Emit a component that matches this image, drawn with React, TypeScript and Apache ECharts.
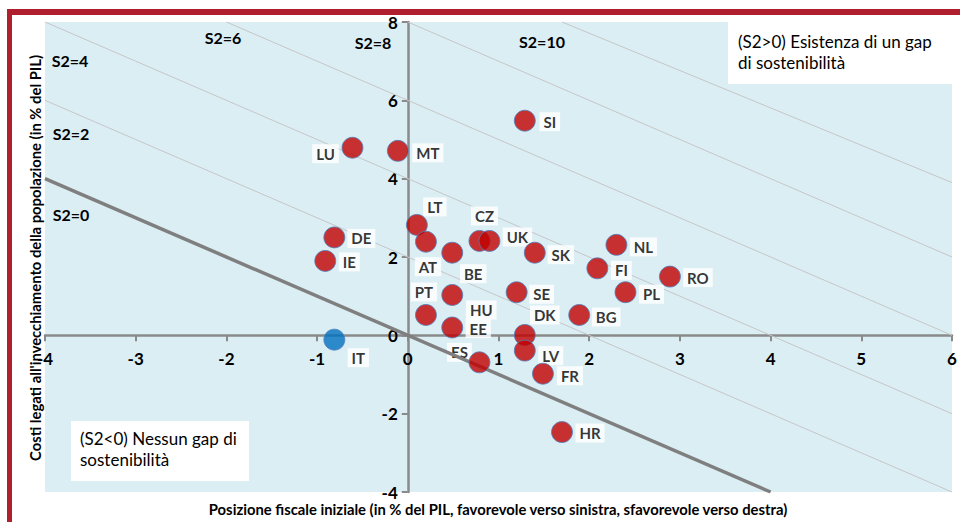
import React, { useEffect, useRef } from "react";
import * as echarts from "echarts";

// Country points: [x = initial budgetary position, y = cost of ageing]
const countries = ["LU", "MT", "SI", "LT", "DE", "IE", "AT", "BE", "CZ", "UK", "SK", "NL", "FI", "RO", "PL", "SE", "BG", "PT", "HU", "EE", "DK", "LV", "ES", "FR", "HR"];
const xValues = [-0.61, -0.11, 1.29, 0.1, -0.81, -0.91, 0.2, 0.49, 0.79, 0.9, 1.4, 2.3, 2.09, 2.89, 2.4, 1.2, 1.89, 0.2, 0.49, 0.49, 1.29, 1.29, 0.79, 1.49, 1.7];
const yValues = [4.79, 4.71, 5.48, 2.82, 2.5, 1.9, 2.39, 2.11, 2.41, 2.41, 2.11, 2.31, 1.71, 1.5, 1.1, 1.1, 0.52, 0.52, 1.03, 0.2, 0.01, -0.39, -0.69, -0.98, -2.47];
const italy = { name: "IT", x: -0.81, y: -0.11 };

// label offsets (px) from each marker
const labelOffsets: Record<string, [number, number]> = {
  LU: [-27, 6], MT: [30, 2], SI: [25, 1], LT: [18, -18], DE: [27, 1], IE: [24, 1],
  AT: [2, 25], BE: [21, 21], CZ: [5, -25], UK: [28, -4], SK: [26, 2], NL: [27, 2],
  FI: [24, 2], RO: [28, 1], PL: [26, 2], SE: [25, 2], BG: [27, 2], PT: [-2, -23],
  HU: [29, 15], EE: [26, 1], DK: [20, -20], LV: [26, 5], ES: [-20, -10], FR: [27, 2],
  HR: [28, 1], IT: [24, 18],
};

// iso-S2 lines
const isoNames = ["S2=2", "S2=4", "S2=6", "S2=8", "S2=10"];
const isoLines: number[][][] = [
  [[-4, 6], [6, -4]],
  [[-4, 8], [6, -2]],
  [[-2, 8], [6, 0]],
  [[0, 8], [6, 2]],
  [[1.7, 8], [6, 3.9]],
];
const zeroLine = [[-4, 4], [4, -4]];

const xTicks = { min: -4, max: 6, interval: 1 };
const yTicks = { min: -4, max: 8, interval: 2 };

const xTitle = "Posizione fiscale iniziale (in % del PIL, favorevole verso sinistra, sfavorevole verso destra)";
const yTitle = "Costi legati all'invecchiamento della popolazione (in % del PIL)";

const FONT = "Lato, 'Open Sans', sans-serif";

const GRID = { left: 45, top: 22, width: 907, height: 470 };

export default function App() {
  const ref = useRef<HTMLDivElement>(null);
  useEffect(() => {
    if (!ref.current) return;
    const chart = echarts.init(ref.current, undefined, { renderer: "svg" });
    const pts = countries.map((c, i) => [xValues[i], yValues[i], c]);
    const allPts = [...pts, [italy.x, italy.y, italy.name]];
    const axisLineStyle = { color: "#8a8a8a", width: 2.5 };
    // axes cross at zero: shift axes from grid edges to the zero position
    const xZeroPx = GRID.left + ((0 - xTicks.min) / (xTicks.max - xTicks.min)) * GRID.width;
    const yZeroPx = GRID.top + ((yTicks.max - 0) / (yTicks.max - yTicks.min)) * GRID.height;
    const xAxisOffset = -(GRID.top + GRID.height - yZeroPx);
    const yAxisOffset = -(xZeroPx - GRID.left);
    const option: any = {
      animation: false,
      textStyle: { fontFamily: FONT },
      grid: { ...GRID, show: true, backgroundColor: "#dbeef4", borderWidth: 0 },
      xAxis: {
        type: "value", ...xTicks, position: "bottom", offset: xAxisOffset,
        axisLine: { show: true, onZero: false, lineStyle: axisLineStyle },
        axisTick: { show: true, length: 6, lineStyle: { color: "#8a8a8a", width: 2 } },
        axisLabel: { fontSize: 17, fontWeight: "bold", color: "#000", margin: 15, fontFamily: FONT },
        splitLine: { show: false },
      },
      yAxis: {
        type: "value", ...yTicks, position: "left", offset: yAxisOffset,
        axisLine: { show: true, onZero: false, lineStyle: axisLineStyle },
        axisTick: { show: true, length: 6, lineStyle: { color: "#8a8a8a", width: 2 } },
        axisLabel: { fontSize: 17, lineHeight: 14, fontWeight: "bold", color: "#000", margin: 10, fontFamily: FONT },
        splitLine: { show: false },
      },
      series: [
        ...isoLines.map((d, i) => ({
          type: "line", name: isoNames[i], data: d, symbol: "none", silent: true, z: 1,
          lineStyle: { color: "#c6c6c6", width: 1 },
        })),
        {
          type: "scatter", name: "labels", z: 2, silent: true,
          symbolSize: 1, itemStyle: { color: "rgba(0,0,0,0)" },
          data: allPts.map((p) => ({
            value: p,
            label: {
              show: true, position: "inside", offset: labelOffsets[p[2] as string],
              formatter: p[2] as string,
              backgroundColor: "#ffffff", padding: [3, 4, 1, 4],
              fontSize: 15, fontWeight: "bold", color: "#000", fontFamily: FONT,
            },
          })),
        },
        {
          type: "line", name: "S2=0", data: zeroLine, symbol: "none", silent: true, z: 3,
          lineStyle: { color: "#7f7f7f", width: 3.5 },
        },
        {
          type: "scatter", name: "countries", z: 4, symbolSize: 21,
          itemStyle: { color: "#c00000", borderColor: "#4f81bd", borderWidth: 1 },
          data: pts,
        },
        {
          type: "scatter", name: "IT", z: 4, symbolSize: 21,
          itemStyle: { color: "#0070c0", borderColor: "#4f81bd", borderWidth: 1 },
          data: [[italy.x, italy.y, italy.name]],
        },
      ],
      graphic: [
        { type: "rect", shape: { x: 7, y: 9, width: 953, height: 6 }, style: { fill: "#b01f2e" }, z: 100 },
        { type: "rect", shape: { x: 7, y: 9, width: 5, height: 513 }, style: { fill: "#b01f2e" }, z: 100 },
        { type: "text", x: 70, y: 60, style: { text: "S2=4", font: `bold 16px ${FONT}`, fill: "#000", align: "center", verticalAlign: "middle" }, z: 50 },
        { type: "text", x: 223, y: 37, style: { text: "S2=6", font: `bold 16px ${FONT}`, fill: "#000", align: "center", verticalAlign: "middle" }, z: 50 },
        { type: "text", x: 373, y: 42, style: { text: "S2=8", font: `bold 16px ${FONT}`, fill: "#000", align: "center", verticalAlign: "middle" }, z: 50 },
        { type: "text", x: 542, y: 41, style: { text: "S2=10", font: `bold 16px ${FONT}`, fill: "#000", align: "center", verticalAlign: "middle" }, z: 50 },
        { type: "text", x: 71, y: 133, style: { text: "S2=2", font: `bold 16px ${FONT}`, fill: "#000", align: "center", verticalAlign: "middle" }, z: 50 },
        { type: "text", x: 71, y: 214, style: { text: "S2=0", font: `bold 16px ${FONT}`, fill: "#000", align: "center", verticalAlign: "middle" }, z: 50 },
        { type: "rect", shape: { x: 728, y: 22, width: 224, height: 62 }, style: { fill: "#ffffff" }, z: 50 },
        { type: "text", x: 738, y: 52, style: { text: "(S2>0) Esistenza di un gap\ndi sostenibilità", font: `17px ${FONT}`, lineHeight: 21, fill: "#000", align: "left", verticalAlign: "middle" }, z: 51 },
        { type: "rect", shape: { x: 71, y: 421, width: 178, height: 60 }, style: { fill: "#ffffff" }, z: 50 },
        { type: "text", x: 80, y: 449, style: { text: "(S2<0) Nessun gap di\nsostenibilità", font: `17px ${FONT}`, lineHeight: 21, fill: "#000", align: "left", verticalAlign: "middle" }, z: 51 },
        { type: "text", x: 498, y: 509, style: { text: xTitle, font: `bold 14.8px ${FONT}`, lineHeight: 14, fill: "#000", align: "center", verticalAlign: "middle" }, z: 50 },
        { type: "text", x: 35, y: 258, rotation: Math.PI / 2, style: { text: yTitle, font: `bold 14.8px ${FONT}`, fill: "#000", align: "center", verticalAlign: "middle" }, z: 50 },
      ],
    };
    chart.setOption(option);
    return () => chart.dispose();
  }, []);
  return <div ref={ref} style={{ position: "fixed", left: 0, top: 0, width: 960, height: 522, background: "#fff" }} />;
}
